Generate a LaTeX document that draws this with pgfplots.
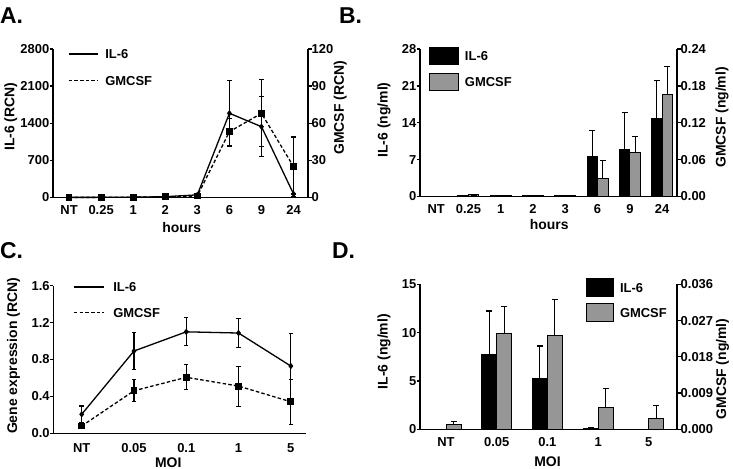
\documentclass[border=0pt]{standalone}
\usepackage{fontspec}
\setmainfont{Liberation Sans}
\usepackage{pgfplots}
\pgfplotsset{compat=1.18}
\usepackage{pgfplotstable}
\definecolor{gmgray}{RGB}{150,150,150}

\pgfplotstableread{
x il ile gm gme
0 2 0 0.1 0
1 3 0 0.1 0
2 6 0 0.3 0
3 15 0 0.6 0
4 50 0 1.2 0
5 1588 622 53.2 11
6 1335 566 68 27
7 66 0 24.9 24
}\dataA

\pgfplotstableread{
x il ile gm gme
0 0.05 0 0.0005 0
1 0.1 0 0.0025 0
2 0.15 0 0.0015 0
3 0.1 0 0.001 0
4 0.1 0 0.001 0
5 7.55 5.0 0.0301 0.029
6 9.0 6.9 0.0713 0.027
7 14.85 7.1 0.1663 0.045
}\dataB

\pgfplotstableread{
x il ile gm gme
0 0.206 0.09 0.079 0.03
1 0.892 0.2 0.461 0.118
2 1.10 0.153 0.607 0.135
3 1.087 0.157 0.512 0.217
4 0.729 0.354 0.342 0.244
}\dataC

\pgfplotstableread{
x il ile gm gme
0 0 0 0.00124 0.00065
1 7.69 4.55 0.02373 0.0067
2 5.24 3.38 0.02324 0.0089
3 0.12 0.05 0.00529 0.0049
4 0.02 0 0.00263 0.0032
}\dataD

\newcommand{\labfont}{\bfseries\fontsize{14}{16}\selectfont}
\pgfplotsset{
  panel/.style={
    scale only axis, anchor=south west,
    axis line style={line width=1.3bp, black},
    tick align=outside, major tick length=3.5bp,
    tick style={black, line width=1.3bp},
    xtick style={draw=none},
    tick label style={font=\bfseries\fontsize{13}{15}\selectfont, inner sep=0pt},
    /pgf/number format/assume math mode=true,
    /pgf/number format/1000 sep={},
    scaled y ticks=false,
    clip=false,
    legend style={draw=none, fill=none, inner sep=0pt, outer sep=0pt,
      font=\bfseries\fontsize{13}{15}\selectfont,
      cells={anchor=west, inner sep=0pt, text height=10.6bp, text depth=1.4bp}},
  },
  leftax/.style={panel, axis x line*=bottom, axis y line*=left},
  rightax/.style={panel, axis x line=none, axis y line*=right},
  xlab/.style 2 args={every axis x label/.style={at={(axis description cs:#1,#2)}, anchor=base, font=\labfont}},
  ylab/.style 2 args={every axis y label/.style={at={(axis description cs:#1,#2)}, rotate=90, anchor=center, font=\labfont}},
  il6line/.style={black, line width=1.3bp, mark=diamond*, mark size=2.2bp, mark options={solid},
    error bars/.cd, y dir=both, y explicit,
    error bar style={line width=1.1bp, black, solid},
    error mark options={rotate=90, mark size=2.2bp, line width=1.1bp, black, solid}},
  gmline/.style={black, line width=1.3bp, dash pattern=on 3.5bp off 2.2bp, mark=square*, mark size=2.8bp, mark options={solid},
    error bars/.cd, y dir=both, y explicit,
    error bar style={line width=1.1bp, black, solid},
    error mark options={rotate=90, mark size=2.2bp, line width=1.1bp, black, solid}},
  barerr/.style={error bars/.cd, y dir=plus, y explicit, error bar style={line width=1.1bp, black},
    error mark options={rotate=90, mark size=3bp, line width=1.1bp, black}},
  fix2/.style={yticklabel style={/pgf/number format/fixed, /pgf/number format/fixed zerofill, /pgf/number format/precision=#1}},
}

\begin{document}
\begin{tikzpicture}
\path[use as bounding box] (0,0) rectangle (733bp,-469bp);

% Panel letters
\node[anchor=base west, inner sep=0pt, font=\bfseries\fontsize{23}{23}\selectfont] at (0bp,-23.3bp) {A.};
\node[anchor=base west, inner sep=0pt, font=\bfseries\fontsize{23}{23}\selectfont] at (339bp,-23.3bp) {B.};
\node[anchor=base west, inner sep=0pt, font=\bfseries\fontsize{23}{23}\selectfont] at (0bp,-258.3bp) {C.};
\node[anchor=base west, inner sep=0pt, font=\bfseries\fontsize{23}{23}\selectfont] at (332bp,-258.3bp) {D.};

% ---------------- Panel A ----------------
\begin{axis}[leftax, at={(53bp,-197.5bp)}, width=255bp, height=148.5bp,
  xmin=-0.5, xmax=7.45, ymin=0, ymax=2800,
  xtick={0,...,7}, xticklabels={NT,0.25,1,2,3,6,9,24},
  xticklabel style={yshift=-4bp},
  ytick={0,700,1400,2100,2800},
  xlabel={hours}, ylabel={IL-6 (RCN)},
  xlab={0.505}{-0.236}, ylab={-0.1655}{0.544},
]
\addplot[il6line] table[x=x, y=il, y error=ile] {\dataA};
\end{axis}
\begin{axis}[rightax, at={(53bp,-197.5bp)}, width=255bp, height=148.5bp,
  xmin=-0.5, xmax=7.45, ymin=0, ymax=120,
  ytick={0,30,60,90,120},
  ylabel={GMCSF (RCN)}, ylab={1.127}{0.603},
  legend image code/.code={\draw[#1] (0bp,0bp) -- (29bp,0bp);},
  legend style={at={(axis description cs:0.0588,1.0202)}, anchor=north west, row sep=10.5bp,
    /tikz/every odd column/.append style={column sep=5bp}},
]
\addlegendimage{black, line width=1.3bp}
\addlegendimage{black, line width=1.3bp, dash pattern=on 3.5bp off 2.2bp}
\addplot[gmline] table[x=x, y=gm, y error=gme] {\dataA};
\legend{IL-6, GMCSF}
\end{axis}

% ---------------- Panel B ----------------
\begin{axis}[leftax, at={(420bp,-196.5bp)}, width=257bp, height=147.5bp,
  xmin=-0.5, xmax=7.46, ymin=0, ymax=28,
  xtick={0,...,7}, xticklabels={NT,0.25,1,2,3,6,9,24},
  xticklabel style={yshift=-4bp},
  ytick={0,7,14,21,28},
  xlabel={hours}, ylabel={IL-6 (ng/ml)},
  xlab={0.503}{-0.227}, ylab={-0.14}{0.519},
]
\addplot[ybar, bar width=10.5bp, bar shift=0pt, fill=black, draw=black, line width=1bp, barerr]
  table[x expr=\thisrow{x}-0.1625, y=il, y error=ile] {\dataB};
\end{axis}
\begin{axis}[rightax, at={(420bp,-196.5bp)}, width=257bp, height=147.5bp,
  xmin=-0.5, xmax=7.46, ymin=0, ymax=0.24,
  ytick={0,0.06,0.12,0.18,0.24}, fix2=2,
  ylabel={GMCSF (ng/ml)}, ylab={1.175}{0.536},
  legend image code/.code={\draw[#1] (0bp,-8.5bp) rectangle (29bp,8.5bp);},
  legend style={at={(axis description cs:0.035,1.0169)}, anchor=north west, row sep=8bp,
    /tikz/every odd column/.append style={column sep=4bp}},
]
\addlegendimage{draw=black, fill=black, line width=1bp}
\addlegendimage{draw=black, fill=gmgray, line width=1bp}
\addplot[ybar, bar width=10.5bp, bar shift=0pt, fill=gmgray, draw=black, line width=1bp, barerr]
  table[x expr=\thisrow{x}+0.1625, y=gm, y error=gme] {\dataB};
\legend{IL-6, GMCSF}
\end{axis}

% ---------------- Panel C ----------------
\begin{axis}[leftax, at={(53.3bp,-433.3bp)}, width=252.7bp, height=147.6bp,
  xmin=-0.543, xmax=4.29, ymin=0, ymax=1.6,
  xtick={0,...,4}, xticklabels={NT,0.05,0.1,1,5},
  xticklabel style={yshift=-6.5bp},
  ytick={0,0.4,0.8,1.2,1.6}, fix2=1,
  xlabel={MOI}, ylabel={Gene expression (RCN)},
  xlab={0.455}{-0.2317}, ylab={-0.1575}{0.524},
  legend image code/.code={\draw[#1] (0bp,0bp) -- (30bp,0bp);},
  legend style={at={(axis description cs:0.0791,1.0454)}, anchor=north west, row sep=9.5bp,
    /tikz/every odd column/.append style={column sep=6.7bp}},
]
\addlegendimage{black, line width=1.3bp}
\addlegendimage{black, line width=1.3bp, dash pattern=on 3.5bp off 2.2bp}
\addplot[il6line] table[x=x, y=il, y error=ile] {\dataC};
\addplot[gmline] table[x=x, y=gm, y error=gme] {\dataC};
\legend{IL-6, GMCSF}
\end{axis}

% ---------------- Panel D ----------------
\begin{axis}[leftax, at={(420bp,-429.3bp)}, width=257bp, height=145bp,
  xmin=-0.513, xmax=4.556, ymin=0, ymax=15,
  xtick={0,...,4}, xticklabels={NT,0.05,0.1,1,5},
  xticklabel style={yshift=-4.5bp},
  ytick={0,5,10,15},
  xlabel={MOI}, ylabel={IL-6 (ng/ml)},
  xlab={0.496}{-0.254}, ylab={-0.14}{0.535},
]
\addplot[ybar, bar width=15bp, bar shift=0pt, fill=black, draw=black, line width=1bp, barerr]
  table[x expr=\thisrow{x}-0.148, y=il, y error=ile] {\dataD};
\end{axis}
\begin{axis}[rightax, at={(420bp,-429.3bp)}, width=257bp, height=145bp,
  xmin=-0.513, xmax=4.556, ymin=0, ymax=0.036,
  ytick={0,0.009,0.018,0.027,0.036}, fix2=3,
  ylabel={GMCSF (ng/ml)}, ylab={1.177}{0.416},
  legend image code/.code={\draw[#1] (0bp,-9bp) rectangle (27bp,9bp);},
  legend style={at={(axis description cs:0.646,1.0434)}, anchor=north west, row sep=6bp,
    /tikz/every odd column/.append style={column sep=4bp}},
]
\addlegendimage{draw=black, fill=black, line width=1bp}
\addlegendimage{draw=black, fill=gmgray, line width=1bp}
\addplot[ybar, bar width=15bp, bar shift=0pt, fill=gmgray, draw=black, line width=1bp, barerr]
  table[x expr=\thisrow{x}+0.148, y=gm, y error=gme] {\dataD};
\legend{IL-6, GMCSF}
\end{axis}
\end{tikzpicture}
\end{document}
